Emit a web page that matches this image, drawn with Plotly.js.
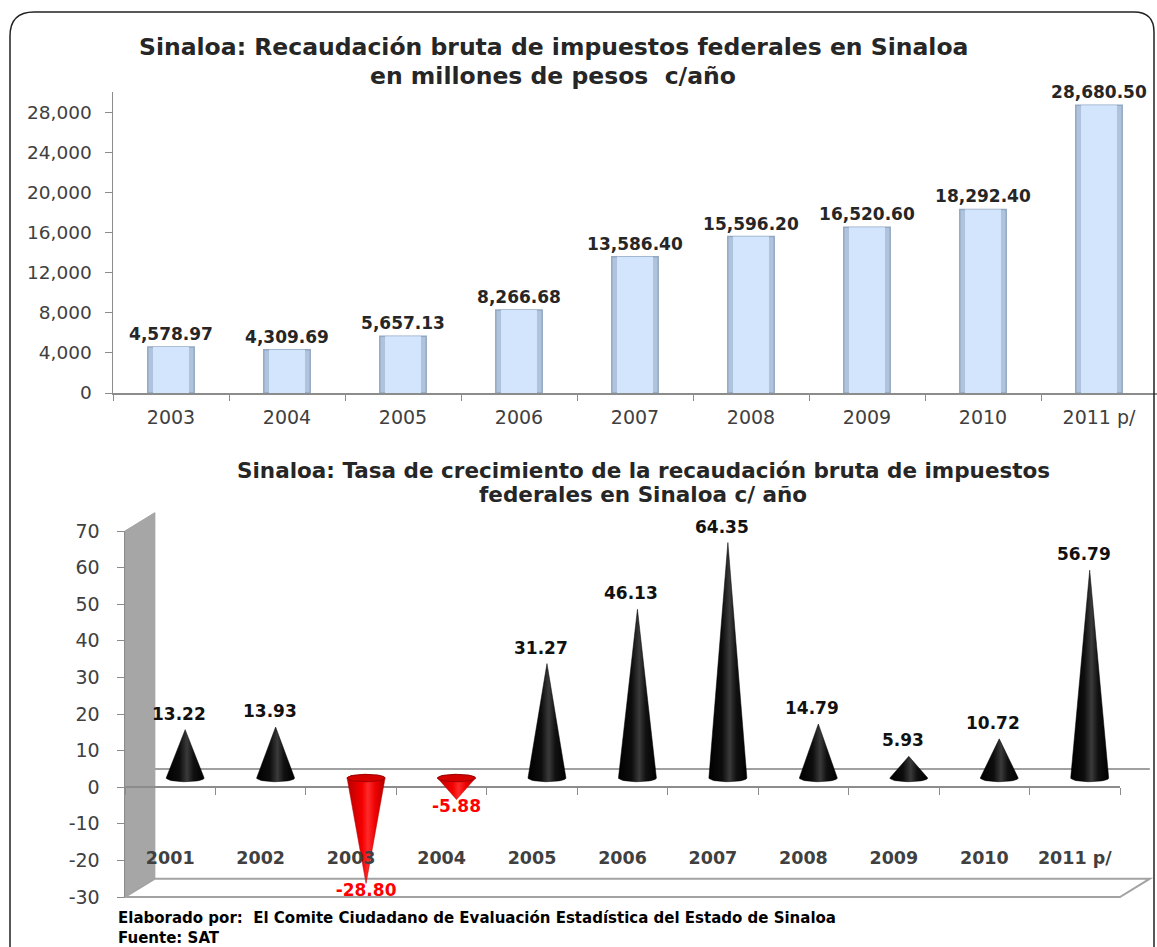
<!DOCTYPE html>
<html>
<head>
<meta charset="utf-8">
<script src="https://cdn.plot.ly/plotly-3.0.1.min.js"></script>
<style>html,body{margin:0;padding:0;background:#fff;}#chart{width:1157px;height:947px;}</style>
</head>
<body>
<div id="chart"></div>
<script>
// ---------- DATA ----------
const yearsTop = ['2003','2004','2005','2006','2007','2008','2009','2010','2011 p/'];
const recaudacion = [4578.97, 4309.69, 5657.13, 8266.68, 13586.40, 15596.20, 16520.60, 18292.40, 28680.50];
const topYTicks = [0, 4000, 8000, 12000, 16000, 20000, 24000, 28000];

const yearsBottom = ['2001','2002','2003','2004','2005','2006','2007','2008','2009','2010','2011 p/'];
const tasa = [13.22, 13.93, -28.80, -5.88, 31.27, 46.13, 64.35, 14.79, 5.93, 10.72, 56.79];
const tasaTicks = [-30, -20, -10, 0, 10, 20, 30, 40, 50, 60, 70];

const titleTop = ['Sinaloa: Recaudación bruta de impuestos federales en Sinaloa', 'en millones de pesos  c/año'];
const titleBottom = ['Sinaloa: Tasa de crecimiento de la recaudación bruta de impuestos', 'federales en Sinaloa c/ año'];
const footer = ['Elaborado por:  El Comite Ciudadano de Evaluación Estadística del Estado de Sinaloa', 'Fuente: SAT'];

// ---------- LAYOUT HELPERS ----------
const W = 1157, H = 947;
const px = x => x / W;
const py = y => 1 - y / H;
const AX = '#8c8c8c';
const TXT = '#404040';
const FONT = 'DejaVu Sans, Verdana, sans-serif';

// bottom chart geometry (3D look)
const DX = 0.33, DY = 5;           // depth offset (category units, value units)
const CW = 0.21, CE = 1.0;         // cone half width, base ellipse radius
const yMin = tasaTicks[0], yMax = tasaTicks[tasaTicks.length - 1];
const nB = yearsBottom.length;
const x0 = -0.5, x1 = nB - 0.5;
const x2dom = [px(125), px(1120)];
const y2dom = [py(897), py(531)];
// data -> paper mapping of the bottom subplot (same as axes x2 / y2)
const X2 = v => x2dom[0] + (v - x0) / (x1 - x0) * (x2dom[1] - x2dom[0]);
const Y2 = v => y2dom[0] + (v - yMin) / (yMax - yMin) * (y2dom[1] - y2dom[0]);
const zeroPos = Y2(0);
const bounds = Array.from({length: nB + 1}, (_, k) => k - 0.5);

const traces = [];

// Top bars (outer darker bevel + inner lighter face)
traces.push({
  type: 'bar', x: yearsTop, y: recaudacion, xaxis: 'x', yaxis: 'y',
  width: 0.4,
  marker: {color: '#afc3dd', line: {color: '#93a8c3', width: 1.5}},
  texttemplate: '%{y:,.2f}', textposition: 'outside', constraintext: 'none',
  textfont: {family: FONT, size: 17, color: '#262626', weight: 'bold'},
  cliponaxis: false, hoverinfo: 'x+y'
});
traces.push({
  type: 'bar', x: yearsTop, y: recaudacion, xaxis: 'x', yaxis: 'y',
  width: 0.31, marker: {color: '#d3e5fc', line: {width: 0}},
  hoverinfo: 'skip', textposition: 'none'
});

// Cones
const annotations = [];
const negX = [], negY = [], negT = [];
tasa.forEach((v, i) => {
  const xc = i + DX / 2, b = DY / 2;
  const xs = [xc - CW, xc, xc + CW], ys = [b, b + v, b];
  const N = 24;
  for (let k = 0; k <= N; k++) {
    const t = Math.PI * k / N;
    xs.push(xc + CW * Math.cos(t));
    ys.push(v >= 0 ? b - CE * Math.sin(t) : b + CE * Math.sin(t));
  }
  const pos = v >= 0;
  traces.push({
    type: 'scatter', mode: 'lines', x: xs, y: ys, xaxis: 'x2', yaxis: 'y2',
    fill: 'toself', line: {width: 0.5, color: pos ? '#000' : '#b00000'},
    fillgradient: {type: 'horizontal', colorscale: pos
      ? [[0, '#000000'], [0.35, '#0d0d0d'], [0.55, '#3a3a3a'], [0.72, '#111111'], [1, '#000000']]
      : [[0, '#b80000'], [0.4, '#f50000'], [0.55, '#ff2a2a'], [0.75, '#ee0000'], [1, '#b00000']]},
    hoverinfo: 'skip', showlegend: false
  });
  if (!pos) {
    const ex = [], ey = [];
    for (let k = 0; k <= 48; k++) {
      const t = 2 * Math.PI * k / 48;
      ex.push(xc + CW * Math.cos(t));
      ey.push(b + CE * Math.sin(t));
    }
    traces.push({
      type: 'scatter', mode: 'lines', x: ex, y: ey, xaxis: 'x2', yaxis: 'y2',
      fill: 'toself', fillcolor: '#d40000', line: {width: 1, color: '#a00000'},
      hoverinfo: 'skip', showlegend: false
    });
    negX.push(xc); negY.push(v + b); negT.push(v.toFixed(2));
  } else {
    annotations.push({
      xref: 'paper', yref: 'paper', x: X2(xc), y: Y2(v), xshift: -6, yshift: 25,
      text: v.toFixed(2), showarrow: false, xanchor: 'center', yanchor: 'middle',
      font: {family: FONT, size: 17, weight: 'bold', color: '#111111'}
    });
  }
});
// negative value labels (below the cone tips)
traces.push({
  type: 'scatter', mode: 'text', x: negX, y: negY, text: negT, xaxis: 'x2', yaxis: 'y2',
  textposition: 'bottom center', cliponaxis: false,
  textfont: {family: FONT, size: 17, weight: 'bold', color: '#ff0000'},
  hoverinfo: 'skip', showlegend: false
});

// Category labels for bottom chart
traces.push({
  type: 'scatter', mode: 'markers', x: yearsBottom, y: yearsBottom.map(() => null),
  xaxis: 'x3', yaxis: 'y2', hoverinfo: 'skip', showlegend: false
});

// Titles & footer
const textLine = (t, x, y, size, anchor, fam, col) => ({
  xref: 'paper', yref: 'paper', x: px(x), y: py(y), text: '<b>' + t + '</b>', showarrow: false,
  xanchor: anchor, yanchor: 'middle', align: 'left', font: {family: fam, size: size, color: col}
});
annotations.push(
  textLine(titleTop[0], 553, 47, 23.5, 'center', FONT, '#262626'),
  textLine(titleTop[1], 553, 76, 23.5, 'center', FONT, '#262626'),
  textLine(titleBottom[0], 643, 470, 21.5, 'center', FONT, '#262626'),
  textLine(titleBottom[1], 643, 494, 21.5, 'center', FONT, '#262626'),
  textLine(footer.join('<br>'), 116, 928, 15, 'left', FONT, '#000')
);

// Decorative 3D frame (wall, floor, back zero line), mapped through the bottom subplot scale
const P = (xv, yv) => `${X2(xv)},${Y2(yv)}`;
const shapes = [
  {type: 'path', xref: 'paper', yref: 'paper', layer: 'below',
   path: `M ${P(x0, yMin)} L ${P(x0, yMax)} L ${P(x0 + DX, yMax + DY)} L ${P(x0 + DX, yMin + DY)} Z`,
   fillcolor: '#a6a6a6', line: {color: '#a0a0a0', width: 1}},
  {type: 'path', xref: 'paper', yref: 'paper', layer: 'below',
   path: `M ${P(x0, yMin)} L ${P(x1, yMin)} L ${P(x1 + DX, yMin + DY)} L ${P(x0 + DX, yMin + DY)} Z`,
   fillcolor: '#ffffff', line: {color: '#a3a3a3', width: 2}},
  {type: 'line', xref: 'paper', yref: 'paper', layer: 'below',
   x0: X2(x0 + DX), x1: X2(x1 + DX), y0: Y2(DY), y1: Y2(DY), line: {color: '#a0a0a0', width: 2}},
  // outer rounded frame
  {type: 'path', xref: 'paper', yref: 'paper', layer: 'above',
   path: `M ${px(10)},${py(950)} L ${px(10)},${py(36)} Q ${px(10)},${py(12)} ${px(34)},${py(12)} L ${px(1134)},${py(12)} Q ${px(1154)},${py(12)} ${px(1154)},${py(32)} L ${px(1154)},${py(950)}`,
   line: {color: '#222', width: 1.5}}
];

const layout = {
  width: W, height: H, margin: {l: 0, r: 0, t: 0, b: 0},
  paper_bgcolor: '#fff', plot_bgcolor: 'rgba(0,0,0,0)', showlegend: false,
  barmode: 'overlay',
  font: {family: FONT, color: TXT},
  xaxis: {domain: [px(113), px(1157)], anchor: 'y', type: 'category',
    showline: true, linecolor: AX, linewidth: 1.5, ticks: 'outside', tickson: 'boundaries',
    ticklen: 6, tickcolor: AX, ticklabelstandoff: 7,
    tickfont: {family: FONT, size: 19, color: TXT}, showgrid: false},
  yaxis: {domain: [py(393), py(92)], anchor: 'x', range: [0, 30000], tickmode: 'array', tickvals: topYTicks,
    tickformat: ',d', showline: true, linecolor: AX, linewidth: 1.5, ticks: 'outside', ticklen: 7,
    ticklabelstandoff: 9,
    tickcolor: AX, tickfont: {family: FONT, size: 18.5, color: TXT}, showgrid: false, zeroline: false},
  xaxis2: {domain: x2dom, anchor: 'free', position: zeroPos, range: [x0, x1],
    tickmode: 'array', tickvals: bounds, showticklabels: false, ticks: 'outside', ticklen: 7,
    tickcolor: AX, showline: true, linecolor: AX, linewidth: 2, showgrid: false, zeroline: false,
    layer: 'below traces'},
  xaxis3: {overlaying: 'x2', anchor: 'free', position: zeroPos, type: 'category', range: [x0, x1],
    ticks: '', showline: false, showgrid: false, ticklabelstandoff: 58,
    tickfont: {family: FONT, size: 17.5, weight: 'bold', color: TXT}},
  yaxis2: {domain: y2dom, anchor: 'x2', range: [yMin, yMax], tickmode: 'array', tickvals: tasaTicks,
    ticktext: tasaTicks.map(String), showline: true, linecolor: AX, linewidth: 1.5,
    ticks: 'outside', ticklen: 7, tickcolor: AX, ticklabelstandoff: 13,
    tickfont: {family: FONT, size: 19, color: TXT},
    showgrid: false, zeroline: false},
  shapes: shapes,
  annotations: annotations
};

Plotly.newPlot('chart', traces, layout, {displayModeBar: false, staticPlot: true});
</script>
</body>
</html>
